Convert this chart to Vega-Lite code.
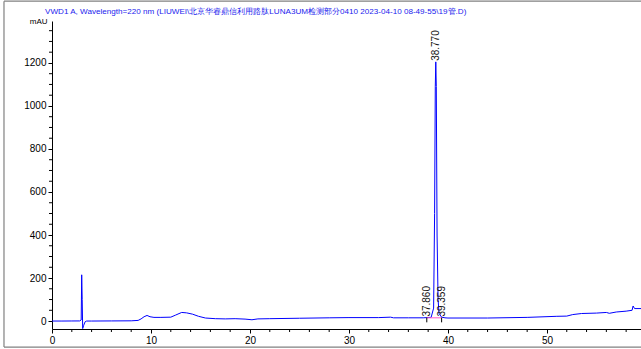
{
  "$schema": "https://vega.github.io/schema/vega-lite/v6.json",
  "autosize": "none",
  "width": 589,
  "height": 308,
  "padding": {"left": 52, "top": 21, "right": 0, "bottom": 20},
  "background": "white",
  "config": {
    "view": {"stroke": null},
    "font": "Liberation Sans",
    "axis": {"domainColor": "#000", "tickColor": "#000", "labelColor": "#000", "labelFont": "Liberation Sans", "labelFontSize": 10, "grid": false, "domainWidth": 1, "tickWidth": 1}
  },
  "title": {
    "text": "VWD1 A, Wavelength=220 nm (LIUWEI\\北京华睿鼎信利用路肽LUNA3UM检测部分0410 2023-04-10 08-49-55\\19管.D)",
    "anchor": "start",
    "frame": "group",
    "dx": -7,
    "offset": -15,
    "fontSize": 8.1,
    "fontWeight": "normal",
    "color": "#2222ee",
    "font": "Liberation Sans"
  },
  "datasets": {
    "signal": [
      {"t": 0, "v": 0}, {"t": 1, "v": 0}, {"t": 2, "v": 0.3}, {"t": 2.8, "v": 0.5},
      {"t": 2.95, "v": 5}, {"t": 3.0, "v": 215}, {"t": 3.05, "v": 100}, {"t": 3.1, "v": -35},
      {"t": 3.2, "v": -20}, {"t": 3.35, "v": -3}, {"t": 3.5, "v": 0}, {"t": 4, "v": 0},
      {"t": 6, "v": 0.5}, {"t": 8, "v": 1}, {"t": 8.7, "v": 3}, {"t": 9.0, "v": 10},
      {"t": 9.3, "v": 20}, {"t": 9.6, "v": 26}, {"t": 9.9, "v": 20}, {"t": 10.3, "v": 17},
      {"t": 11, "v": 17}, {"t": 12, "v": 18}, {"t": 12.5, "v": 28}, {"t": 13.1, "v": 40},
      {"t": 13.6, "v": 38}, {"t": 14.2, "v": 32}, {"t": 14.8, "v": 22}, {"t": 15.5, "v": 14},
      {"t": 16.5, "v": 11}, {"t": 17.5, "v": 10}, {"t": 18.5, "v": 11}, {"t": 19.5, "v": 9},
      {"t": 20.2, "v": 6}, {"t": 20.8, "v": 10}, {"t": 22, "v": 11}, {"t": 25, "v": 13},
      {"t": 28, "v": 15}, {"t": 30, "v": 16}, {"t": 33, "v": 16}, {"t": 34.2, "v": 18},
      {"t": 34.5, "v": 15}, {"t": 36, "v": 15}, {"t": 37.5, "v": 15}, {"t": 37.86, "v": 16},
      {"t": 38.3, "v": 17}, {"t": 38.55, "v": 60}, {"t": 38.65, "v": 500}, {"t": 38.72, "v": 1090},
      {"t": 38.77, "v": 1205}, {"t": 38.82, "v": 1090}, {"t": 38.9, "v": 400}, {"t": 39.0, "v": 100},
      {"t": 39.1, "v": 35}, {"t": 39.36, "v": 18}, {"t": 39.7, "v": 15}, {"t": 40, "v": 14},
      {"t": 44, "v": 14}, {"t": 48, "v": 17}, {"t": 51, "v": 22}, {"t": 52, "v": 23},
      {"t": 52.6, "v": 30}, {"t": 53.5, "v": 35}, {"t": 55, "v": 37}, {"t": 56, "v": 40},
      {"t": 56.3, "v": 36}, {"t": 57, "v": 42}, {"t": 58, "v": 46}, {"t": 58.6, "v": 50},
      {"t": 58.7, "v": 70}, {"t": 58.85, "v": 58}, {"t": 59.5, "v": 58}
    ],
    "baseline": [
      {"t": 37.86, "v": 15}, {"t": 39.36, "v": 15}
    ],
    "peaks": [
      {"t": 37.86, "top": 16, "lab": "37.860", "lo": -6, "hi": 16},
      {"t": 38.77, "top": 1205, "lab": "38.770", "lo": 1205, "hi": 1205},
      {"t": 39.359, "top": 16, "lab": "39.359", "lo": -6, "hi": 16}
    ],
    "border": [
      {"xa": -4.85, "xb": -4.85, "ya": -121, "yb": 1487},
      {"xa": -4.85, "xb": 61, "ya": 1487, "yb": 1487},
      {"xa": -4.85, "xb": 61, "ya": -121, "yb": -121}
    ],
    "xminor": [
      {"m": 2}, {"m": 4}, {"m": 6}, {"m": 8}, {"m": 12}, {"m": 14}, {"m": 16}, {"m": 18},
      {"m": 22}, {"m": 24}, {"m": 26}, {"m": 28}, {"m": 32}, {"m": 34}, {"m": 36}, {"m": 38},
      {"m": 42}, {"m": 44}, {"m": 46}, {"m": 48}, {"m": 52}, {"m": 54}, {"m": 56}, {"m": 58}
    ],
    "yminor": [
      {"m": 50}, {"m": 100}, {"m": 150}, {"m": 250}, {"m": 300}, {"m": 350}, {"m": 450}, {"m": 500}, {"m": 550},
      {"m": 650}, {"m": 700}, {"m": 750}, {"m": 850}, {"m": 900}, {"m": 950}, {"m": 1050}, {"m": 1100}, {"m": 1150},
      {"m": 1250}, {"m": 1300}, {"m": 1350}
    ]
  },
  "layer": [
    {
      "data": {"name": "signal"},
      "mark": {"type": "line", "color": "#0000ff", "strokeWidth": 1, "interpolate": "linear"},
      "encoding": {
        "x": {
          "field": "t", "type": "quantitative",
          "scale": {"domain": [0, 59.5], "nice": false, "zero": false},
          "axis": {"values": [0, 10, 20, 30, 40, 50], "format": "d", "tickSize": 4, "labelPadding": 2, "title": "min", "titleFontSize": 10, "titleFontWeight": "normal", "titleX": 583, "titleY": 18, "titleAlign": "left", "titleColor": "#000", "labelFlush": false}
        },
        "y": {
          "field": "v", "type": "quantitative",
          "scale": {"domain": [-37, 1395], "nice": false, "zero": false},
          "axis": {"values": [0, 200, 400, 600, 800, 1000, 1200], "format": "d", "tickSize": 4, "labelPadding": 2, "title": "mAU", "titleAngle": 0, "titleFontSize": 8, "titleFontWeight": "normal", "titleX": -5, "titleY": 0, "titleAlign": "right", "titleBaseline": "middle", "titleColor": "#000"}
        }
      }
    },
    {
      "data": {"name": "border"},
      "mark": {"type": "rule", "color": "#808080", "strokeWidth": 1.2, "clip": false},
      "encoding": {
        "x": {"field": "xa", "type": "quantitative"},
        "x2": {"field": "xb"},
        "y": {"field": "ya", "type": "quantitative"},
        "y2": {"field": "yb"}
      }
    },
    {
      "data": {"name": "xminor"},
      "mark": {"type": "rule", "color": "#000", "strokeWidth": 1, "clip": false},
      "encoding": {
        "x": {"field": "m", "type": "quantitative"},
        "y": {"datum": -37},
        "y2": {"datum": -51}
      }
    },
    {
      "data": {"name": "yminor"},
      "mark": {"type": "rule", "color": "#000", "strokeWidth": 1, "clip": false},
      "encoding": {
        "y": {"field": "m", "type": "quantitative"},
        "x": {"datum": 0},
        "x2": {"datum": -0.3}
      }
    },
    {
      "data": {"name": "baseline"},
      "mark": {"type": "line", "color": "#ff55cc", "strokeWidth": 1},
      "encoding": {
        "x": {"field": "t", "type": "quantitative"},
        "y": {"field": "v", "type": "quantitative"}
      }
    },
    {
      "data": {"name": "peaks"},
      "mark": {"type": "rule", "color": "#000", "strokeWidth": 1},
      "encoding": {
        "x": {"field": "t", "type": "quantitative"},
        "y": {"field": "lo", "type": "quantitative"},
        "y2": {"field": "hi"}
      }
    },
    {
      "data": {"name": "peaks"},
      "mark": {"type": "text", "angle": 270, "align": "left", "baseline": "middle", "dx": 1, "fontSize": 10, "color": "#111", "font": "Liberation Sans"},
      "encoding": {
        "x": {"field": "t", "type": "quantitative"},
        "y": {"field": "top", "type": "quantitative"},
        "text": {"field": "lab"}
      }
    }
  ]
}
